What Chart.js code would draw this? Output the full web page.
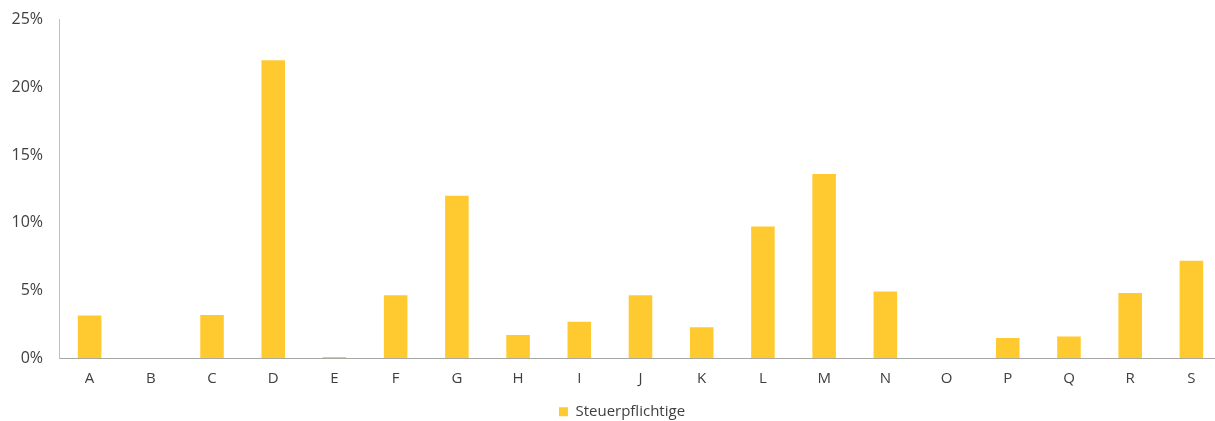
<!DOCTYPE html>
<html>
<head>
<meta charset="utf-8">
<script src="https://cdn.jsdelivr.net/npm/chart.js@4/dist/chart.umd.min.js"></script>
<style>
  html, body { margin: 0; padding: 0; background: #fff; overflow: hidden; }
  #wrap { position: relative; width: 1244px; height: 421px; }
</style>
</head>
<body>
<div id="wrap"><canvas id="c"></canvas></div>
<script>
const categories = ["A","B","C","D","E","F","G","H","I","J","K","L","M","N","O","P","Q","R","S"];
const steuerpflichtige = [3.15, 0, 3.2, 22.0, 0.1, 4.65, 12.0, 1.72, 2.7, 4.65, 2.3, 9.72, 13.6, 4.92, 0, 1.5, 1.6, 4.82, 7.2];
const seriesName = "Steuerpflichtige";
const yTickValues = [0, 5, 10, 15, 20, 25];

const textColor = "#404040";
const fontFamily = "'Open Sans', 'Noto Sans', sans-serif";

new Chart(document.getElementById("c"), {
  type: "bar",
  data: {
    labels: categories,
    datasets: [{
      label: seriesName,
      data: steuerpflichtige,
      backgroundColor: "#FFCA30",
      borderWidth: 0,
      barPercentage: 0.385,
      categoryPercentage: 1.0,
      yAxisID: "y"
    }]
  },
  options: {
    responsive: true,
    maintainAspectRatio: false,
    animation: false,
    layout: { padding: { top: 19.5, left: 0, right: 0, bottom: -8.2 } },
    plugins: {
      legend: {
        position: "bottom",
        labels: {
          boxWidth: 9,
          boxHeight: 9,
          padding: 4,
          color: textColor,
          font: { family: fontFamily, size: 15 }
        }
      },
      tooltip: { enabled: false }
    },
    scales: {
      x: {
        grid: { display: false },
        border: { display: true, color: "#A6A6A6", width: 1 },
        ticks: { color: textColor, padding: 3.7, font: { family: fontFamily, size: 15 } },
        afterFit: s => { s.height = 41.9; }
      },
      y: {
        min: 0,
        max: 25,
        grid: { display: false },
        border: { display: true, color: "#BFBFBF", width: 1 },
        afterBuildTicks: s => { s.ticks = yTickValues.map(v => ({ value: v })); },
        ticks: {
          color: textColor,
          padding: 8,
          font: { family: fontFamily, size: 16 },
          callback: v => v + "%"
        },
        afterFit: s => { s.width = 59; }
      },
      yR: {
        type: "linear",
        position: "right",
        display: true,
        grid: { display: false },
        border: { display: false },
        ticks: { display: false },
        afterFit: s => { s.width = 22; }
      }
    }
  }
});
</script>
</body>
</html>
